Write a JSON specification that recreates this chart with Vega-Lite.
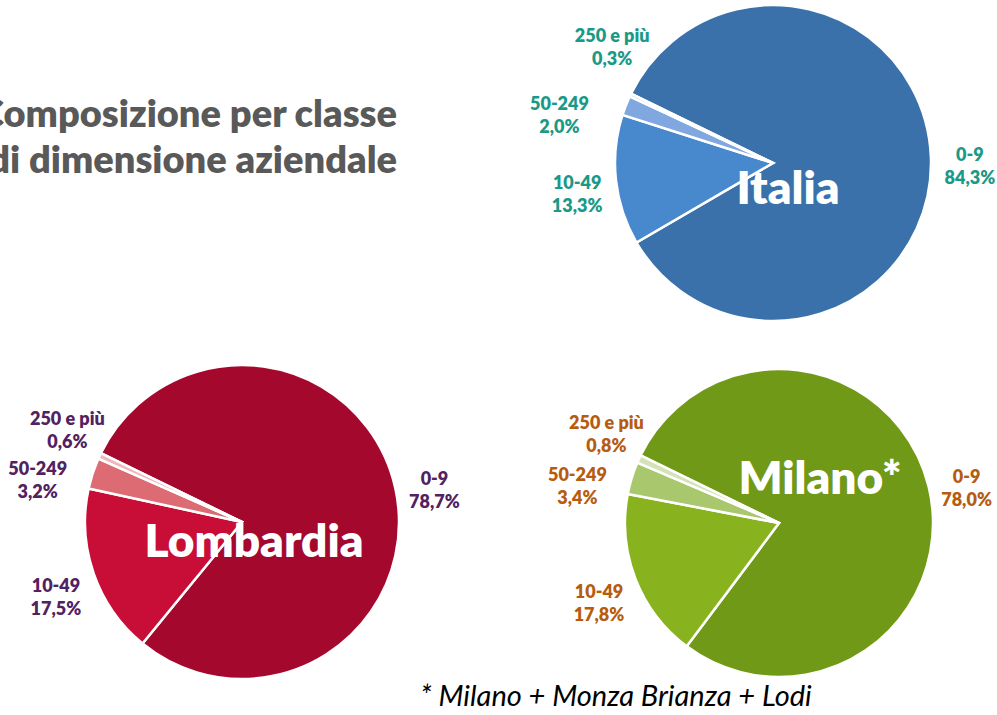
{
  "$schema": "https://vega.github.io/schema/vega-lite/v6.json",
  "padding": 0,
  "autosize": {"type": "pad"},
  "spacing": 6,
  "config": {"view": {"stroke": null}},
  "datasets": {
    "quote": [
      {"regione": "Italia", "classe": "0-9", "quota": 84.3},
      {"regione": "Italia", "classe": "10-49", "quota": 13.3},
      {"regione": "Italia", "classe": "50-249", "quota": 2.0},
      {"regione": "Italia", "classe": "250 e più", "quota": 0.3},
      {"regione": "Lombardia", "classe": "0-9", "quota": 78.7},
      {"regione": "Lombardia", "classe": "10-49", "quota": 17.5},
      {"regione": "Lombardia", "classe": "50-249", "quota": 3.2},
      {"regione": "Lombardia", "classe": "250 e più", "quota": 0.6},
      {"regione": "Milano", "classe": "0-9", "quota": 78.0},
      {"regione": "Milano", "classe": "10-49", "quota": 17.8},
      {"regione": "Milano", "classe": "50-249", "quota": 3.4},
      {"regione": "Milano", "classe": "250 e più", "quota": 0.8}
    ]
  },
  "resolve": {"scale": {"color": "independent", "theta": "independent"}},
  "vconcat": [
    {
      "bounds": "flush",
      "spacing": 0,
      "resolve": {"scale": {"color": "independent", "theta": "independent"}},
      "hconcat": [
        {
          "width": 553,
          "height": 326,
          "data": {"values": [{}]},
          "mark": {
            "type": "text",
            "text": ["Composizione per classe", "di dimensione aziendale"],
            "align": "right",
            "baseline": "middle",
            "dx": 120.5,
            "dy": -47,
            "font": "Lato",
            "fontSize": 38,
            "fontWeight": 800,
            "lineHeight": 46,
            "color": "#595959",
            "clip": true
          }
        },
        {
          "width": 440,
          "height": 326,
          "layer": [
            {
              "data": {"name": "quote"},
              "transform": [
                {"filter": "datum.regione === 'Italia'"},
                {"calculate": "indexof(['0-9','10-49','50-249','250 e più'], datum.classe)", "as": "ordine"}
              ],
              "mark": {"type": "arc", "radius": 158, "stroke": "white", "strokeWidth": 2.5},
              "encoding": {
                "theta": {"field": "quota", "type": "quantitative", "stack": true, "scale": {"range": [-1.11701, 5.16617]}},
                "order": {"field": "ordine", "type": "quantitative"},
                "color": {"field": "classe", "type": "nominal", "legend": null,
                  "scale": {"domain": ["0-9", "10-49", "50-249", "250 e più"], "range": ["#3b71ab", "#4888cd", "#80a7df", "#c6d6f0"]}}
              }
            },
            {
              "data": {"name": "quote"},
              "transform": [
                {"filter": "datum.regione === 'Italia'"},
                {"calculate": "indexof(['0-9','10-49','50-249','250 e più'], datum.classe)", "as": "ordine"},
                {"calculate": "[datum.classe, replace(format(datum.quota, '.1f'), '.', ',') + '%']", "as": "etichetta"}
              ],
              "mark": {
                "type": "text", "radius": 197, "font": "Lato", "fontSize": 18, "fontWeight": 800, "lineHeight": 23, "color": "#1a9987",
                "dx": {"expr": "datum.classe === '50-249' ? -30 : datum.classe === '250 e più' ? 17 : 0"},
                "dy": {"expr": "datum.classe === '50-249' ? 14 : datum.classe === '250 e più' ? -41 : 0"}
              },
              "encoding": {
                "theta": {"field": "quota", "type": "quantitative", "stack": true},
                "order": {"field": "ordine", "type": "quantitative"},
                "text": {"field": "etichetta", "type": "nominal"}
              }
            },
            {
              "data": {"values": [{}]},
              "mark": {"type": "text", "text": "Italia", "dx": 15, "dy": 27, "font": "Lato", "fontSize": 46, "fontWeight": 800, "color": "white"}
            }
          ]
        }
      ]
    },
    {
      "bounds": "flush",
      "spacing": 77,
      "resolve": {"scale": {"color": "independent", "theta": "independent"}},
      "hconcat": [
        {
          "width": 484,
          "height": 380,
          "layer": [
            {
              "data": {"name": "quote"},
              "transform": [
                {"filter": "datum.regione === 'Lombardia'"},
                {"calculate": "indexof(['0-9','10-49','50-249','250 e più'], datum.classe)", "as": "ordine"}
              ],
              "mark": {"type": "arc", "radius": 157, "stroke": "white", "strokeWidth": 2.5},
              "encoding": {
                "theta": {"field": "quota", "type": "quantitative", "stack": true, "scale": {"range": [-1.11701, 5.16617]}},
                "order": {"field": "ordine", "type": "quantitative"},
                "color": {"field": "classe", "type": "nominal", "legend": null,
                  "scale": {"domain": ["0-9", "10-49", "50-249", "250 e più"], "range": ["#a5082d", "#c80d37", "#dc6b74", "#f0b8bc"]}}
              }
            },
            {
              "data": {"name": "quote"},
              "transform": [
                {"filter": "datum.regione === 'Lombardia'"},
                {"calculate": "indexof(['0-9','10-49','50-249','250 e più'], datum.classe)", "as": "ordine"},
                {"calculate": "[datum.classe, replace(format(datum.quota, '.1f'), '.', ',') + '%']", "as": "etichetta"}
              ],
              "mark": {
                "type": "text", "radius": 197, "font": "Lato", "fontSize": 18, "fontWeight": 800, "lineHeight": 23, "color": "#52215f",
                "dx": {"expr": "datum.classe === '50-249' ? -17 : datum.classe === '250 e più' ? 4 : 0"},
                "dy": {"expr": "datum.classe === '50-249' ? 9 : datum.classe === '250 e più' ? -19 : 0"}
              },
              "encoding": {
                "theta": {"field": "quota", "type": "quantitative", "stack": true},
                "order": {"field": "ordine", "type": "quantitative"},
                "text": {"field": "etichetta", "type": "nominal"}
              }
            },
            {
              "data": {"values": [{}]},
              "mark": {"type": "text", "text": "Lombardia", "dx": 12, "dy": 21, "font": "Lato", "fontSize": 46, "fontWeight": 800, "color": "white"}
            }
          ]
        },
        {
          "width": 436,
          "height": 382,
          "layer": [
            {
              "data": {"name": "quote"},
              "transform": [
                {"filter": "datum.regione === 'Milano'"},
                {"calculate": "indexof(['0-9','10-49','50-249','250 e più'], datum.classe)", "as": "ordine"}
              ],
              "mark": {"type": "arc", "radius": 154, "stroke": "white", "strokeWidth": 2.5},
              "encoding": {
                "theta": {"field": "quota", "type": "quantitative", "stack": true, "scale": {"range": [-1.11701, 5.16617]}},
                "order": {"field": "ordine", "type": "quantitative"},
                "color": {"field": "classe", "type": "nominal", "legend": null,
                  "scale": {"domain": ["0-9", "10-49", "50-249", "250 e più"], "range": ["#719918", "#89b21f", "#a9c86e", "#d4e2ba"]}}
              }
            },
            {
              "data": {"name": "quote"},
              "transform": [
                {"filter": "datum.regione === 'Milano'"},
                {"calculate": "indexof(['0-9','10-49','50-249','250 e più'], datum.classe)", "as": "ordine"},
                {"calculate": "[datum.classe, replace(format(datum.quota, '.1f'), '.', ',') + '%']", "as": "etichetta"}
              ],
              "mark": {
                "type": "text", "radius": 193, "font": "Lato", "fontSize": 18, "fontWeight": 800, "lineHeight": 23, "color": "#b65c10",
                "dx": {"expr": "datum.classe === '50-249' ? -17 : datum.classe === '250 e più' ? 3 : 0"},
                "dy": {"expr": "datum.classe === '50-249' ? 9 : datum.classe === '250 e più' ? -19 : 0"}
              },
              "encoding": {
                "theta": {"field": "quota", "type": "quantitative", "stack": true},
                "order": {"field": "ordine", "type": "quantitative"},
                "text": {"field": "etichetta", "type": "nominal"}
              }
            },
            {
              "data": {"values": [{}]},
              "mark": {"type": "text", "text": "Milano*", "dx": 41, "dy": -43, "font": "Lato", "fontSize": 46, "fontWeight": 800, "color": "white"}
            },
            {
              "data": {"values": [{}]},
              "mark": {"type": "text", "text": "* Milano + Monza Brianza + Lodi", "dx": -163, "dy": 174, "font": "Lato", "fontSize": 29, "fontStyle": "italic", "color": "black"}
            }
          ]
        }
      ]
    }
  ]
}
